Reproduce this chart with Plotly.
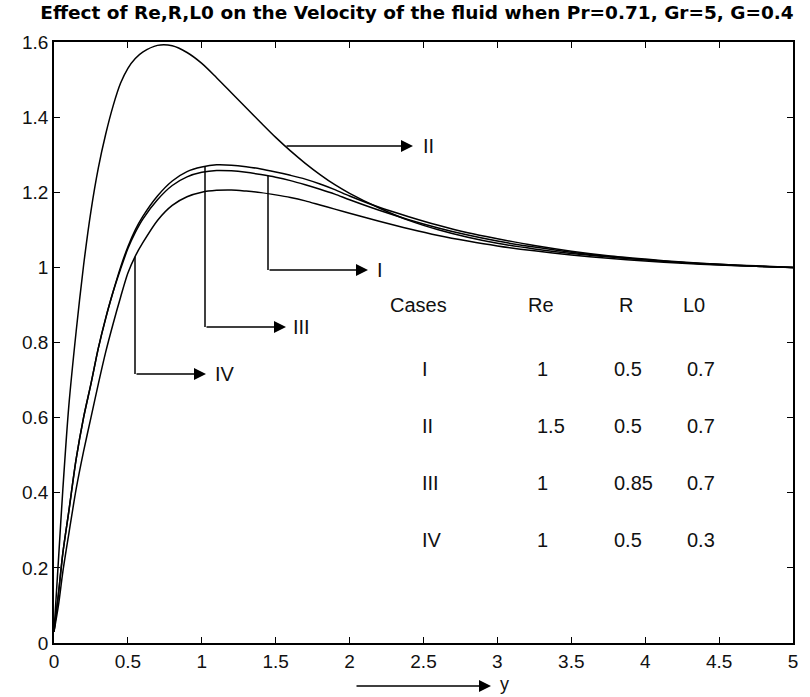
import numpy as np
import plotly.graph_objects as go

# ---------------- data ----------------
y_pos = [0, 0.03, 0.06, 0.1, 0.15, 0.2, 0.25, 0.3, 0.35, 0.4, 0.45, 0.5, 0.55, 0.6, 0.7, 0.8, 0.9,
         1.0, 1.1, 1.2, 1.3, 1.4, 1.5, 1.6, 1.7, 1.8, 1.9, 2.0, 2.2, 2.4, 2.6, 2.8, 3.0,
         3.25, 3.5, 3.75, 4.0, 4.25, 4.5, 4.75, 5.0]

vel_I = [0.03, 0.13, 0.24, 0.35, 0.49, 0.60, 0.69, 0.785, 0.865, 0.935, 0.995, 1.05, 1.093, 1.128,
         1.18, 1.218, 1.241, 1.253, 1.258, 1.257, 1.253, 1.247, 1.240, 1.231, 1.220, 1.208,
         1.195, 1.180, 1.152, 1.127, 1.105, 1.086, 1.070, 1.054, 1.040, 1.029, 1.020, 1.013,
         1.007, 1.003, 1.0]

vel_II = [0.03, 0.22, 0.41, 0.63, 0.83, 1.005, 1.15, 1.265, 1.355, 1.43, 1.49, 1.53, 1.556, 1.573,
          1.591, 1.590, 1.572, 1.543, 1.505, 1.465, 1.425, 1.385, 1.346, 1.310, 1.277, 1.247,
          1.220, 1.197, 1.158, 1.125, 1.10, 1.08, 1.064, 1.049, 1.037, 1.028, 1.020, 1.013,
          1.008, 1.004, 1.0]

vel_III = [0.03, 0.13, 0.24, 0.35, 0.49, 0.60, 0.69, 0.785, 0.865, 0.935, 1.0, 1.055, 1.10, 1.135,
           1.19, 1.23, 1.255, 1.267, 1.273, 1.272, 1.268, 1.262, 1.254, 1.245, 1.235, 1.222,
           1.207, 1.190, 1.160, 1.135, 1.112, 1.092, 1.076, 1.058, 1.043, 1.031, 1.022, 1.014,
           1.008, 1.003, 1.0]

vel_IV = [0.03, 0.10, 0.19, 0.29, 0.41, 0.51, 0.60, 0.69, 0.775, 0.85, 0.92, 0.985, 1.03, 1.065,
          1.125, 1.165, 1.188, 1.200, 1.205, 1.206, 1.203, 1.199, 1.193, 1.186, 1.177, 1.166,
          1.155, 1.144, 1.123, 1.103, 1.085, 1.070, 1.057, 1.044, 1.033, 1.024, 1.017, 1.011,
          1.006, 1.003, 1.0]

cases = ["I", "II", "III", "IV"]
re_vals = ["1", "1.5", "1", "1"]
r_vals = ["0.5", "0.5", "0.85", "0.5"]
l0_vals = ["0.7", "0.7", "0.7", "0.3"]
headers = ["Cases", "Re", "R", "L0"]

x_ticks = [0, 0.5, 1, 1.5, 2, 2.5, 3, 3.5, 4, 4.5, 5]
x_ticklabels = ["0", "0.5", "1", "1.5", "2", "2.5", "3", "3.5", "4", "4.5", "5"]
y_ticks = [0, 0.2, 0.4, 0.6, 0.8, 1.0, 1.2, 1.4, 1.6]
y_ticklabels = ["0", "0.2", "0.4", "0.6", "0.8", "1", "1.2", "1.4", "1.6"]

title_text = "Effect of Re,R,L0 on the Velocity of the fluid when Pr=0.71, Gr=5, G=0.4"

# ---------------- layout helpers ----------------
FONT = "Liberation Sans, Arial, sans-serif"
TFONT = "DejaVu Sans, Verdana, sans-serif"
TXT = "#111"
L, R, T, B = 54, 17, 42, 54
W, H = 810, 697
pw, ph = W - L - R, H - T - B

def dx(px):
    return (px - L) / pw * 5.0

def dy(py):
    return (H - B - py) / ph * 1.6

fig = go.Figure()
for vals in (vel_I, vel_II, vel_III, vel_IV):
    fig.add_trace(go.Scatter(x=y_pos, y=vals, mode="lines",
                             line=dict(color="black", width=1.5, shape="spline", smoothing=0.8),
                             showlegend=False, hoverinfo="skip"))

curve_of = {"I": vel_I, "II": vel_II, "III": vel_III, "IV": vel_IV}
# label arrows: (case, vertical x pixel, horizontal y pixel or None, tip pixel x, label pixel x)
arrow_specs = [
    ("II", 285, None, 413, 421),
    ("I", 268, 270, 368, 375),
    ("III", 205, 327, 286, 291),
    ("IV", 135, 374, 206, 213),
]
shapes = []
annotations = []
for name, vx_px, hy_px, tip_px, lab_px in arrow_specs:
    vx = dx(vx_px)
    start = float(np.interp(vx, y_pos, curve_of[name]))
    if hy_px is None:
        hy = start
    else:
        hy = dy(hy_px)
        shapes.append(dict(type="line", xref="x", yref="y", x0=vx, x1=vx, y0=start, y1=hy,
                           line=dict(color="black", width=1.5)))
    annotations.append(dict(x=dx(tip_px), y=hy, ax=vx, ay=hy, xref="x", yref="y",
                            axref="x", ayref="y", text="", showarrow=True,
                            arrowhead=2, arrowsize=1.6, arrowwidth=1.5, arrowcolor="black"))
    annotations.append(dict(x=dx(lab_px), y=hy, xref="x", yref="y", text=name, showarrow=False,
                            xanchor="left", yanchor="middle",
                            font=dict(family=FONT, size=20, color=TXT)))

# table
hdr_px = [418, 541, 626, 694]
for h, px in zip(headers, hdr_px):
    annotations.append(dict(x=dx(px), y=dy(305), xref="x", yref="y", text=h, showarrow=False,
                            xanchor="center", yanchor="middle",
                            font=dict(family=FONT, size=20, color=TXT)))
row_py = [369, 426, 483, 540]
for i in range(4):
    for txt, px in ((cases[i], 420), (re_vals[i], 535), (r_vals[i], 612), (l0_vals[i], 685)):
        annotations.append(dict(x=dx(px), y=dy(row_py[i]), xref="x", yref="y", text=txt,
                                showarrow=False, xanchor="left", yanchor="middle",
                                font=dict(family=FONT, size=20, color=TXT)))

# axis-label arrow "----> y"
annotations.append(dict(x=(491 - L) / pw, y=(H - B - 686) / ph, xref="paper", yref="paper",
                        ax=-136, ay=0, text="", showarrow=True, arrowhead=2, arrowsize=1.6,
                        arrowwidth=1.5, arrowcolor="black"))
annotations.append(dict(x=(498 - L) / pw, y=(H - B - 696) / ph, xref="paper", yref="paper",
                        text="y", showarrow=False, xanchor="left", yanchor="bottom",
                        font=dict(family=FONT, size=18, color=TXT)))

fig.update_layout(
    width=W, height=H,
    margin=dict(l=L, r=R, t=T, b=B),
    paper_bgcolor="white", plot_bgcolor="white",
    title=dict(text="<b>" + title_text + "</b>", x=417 / W, xref="container", xanchor="center",
               y=1 - 13 / H, yref="container", yanchor="middle",
               font=dict(family=TFONT, size=18.5, color="black")),
    shapes=shapes, annotations=annotations,
    xaxis=dict(range=[0, 5], tickvals=x_ticks, ticktext=x_ticklabels, ticks="inside",
               ticklen=6, tickcolor="black", showline=True, linecolor="black", linewidth=1.5,
               mirror="ticks", showgrid=False, zeroline=False,
               tickfont=dict(family=FONT, size=19, color=TXT)),
    yaxis=dict(range=[0, 1.6], tickvals=y_ticks, ticktext=y_ticklabels, ticks="inside",
               ticklen=6, tickcolor="black", showline=True, linecolor="black", linewidth=1.5,
               mirror="ticks", showgrid=False, zeroline=False,
               tickfont=dict(family=FONT, size=19, color=TXT)),
)

fig.write_html("out.html")
